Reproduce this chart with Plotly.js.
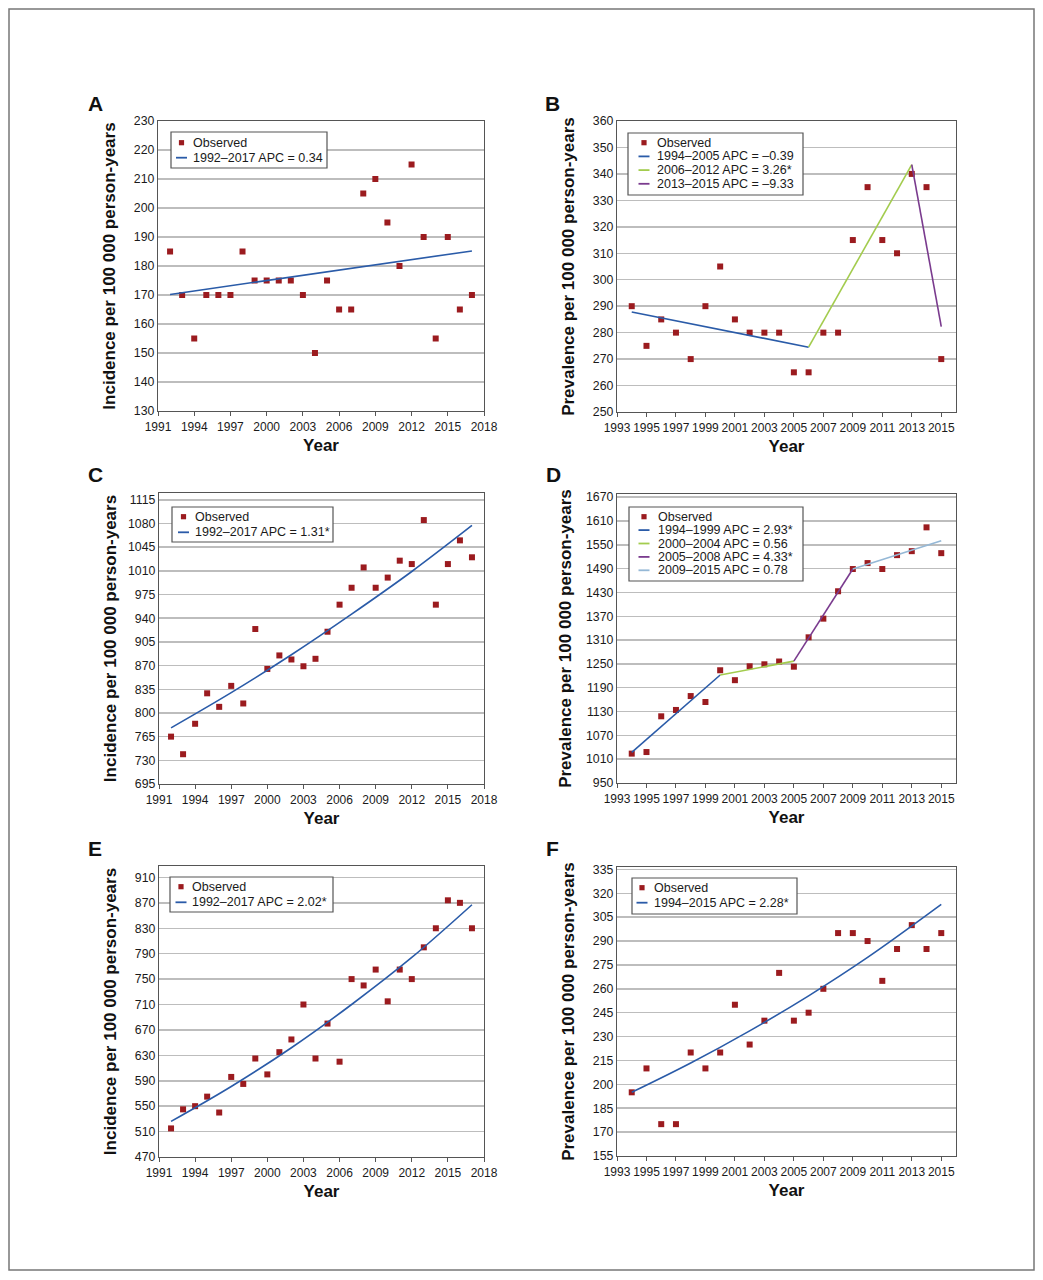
<!DOCTYPE html>
<html><head><meta charset="utf-8">
<script src="https://cdn.plot.ly/plotly-3.0.1.min.js"></script>
<style>html,body{margin:0;padding:0;background:#fff}</style>
</head><body><div id="chart" style="width:1043px;height:1280px"></div>
<script>
// ---------- DATA ----------
const yearsInc = [1992,1993,1994,1995,1996,1997,1998,1999,2000,2001,2002,2003,2004,2005,2006,2007,2008,2009,2010,2011,2012,2013,2014,2015,2016,2017];
const yearsPrev = [1994,1995,1996,1997,1998,1999,2000,2001,2002,2003,2004,2005,2006,2007,2008,2009,2010,2011,2012,2013,2014,2015];

const obsA = [185,170,155,170,170,170,185,175,175,175,175,170,150,175,165,165,205,210,195,180,215,190,155,190,165,170];
const fitA_x = [1992,2017];
const fitA_y = [170.2,185.2];

const obsB = [290,275,285,280,270,290,305,285,280,280,280,265,265,280,280,315,335,315,310,340,335,270];
const fitB1_x = [1994,2006], fitB1_y = [287.8,274.5];
const fitB2_x = [2006,2013], fitB2_y = [274.5,343.5];
const fitB3_x = [2013,2015], fitB3_y = [343.5,282.3];

const obsC = [765,739,784,829,809,840,814,924,865,885,879,869,880,920,960,985,1015,985,1000,1025,1020,1085,960,1020,1055,1030];
const fitC_x = [1992,1997,2002,2007,2012,2017];
const fitC_y = [778,830,886,946,1009,1077];

const obsD = [1024,1028,1118,1134,1169,1154,1234,1209,1244,1249,1256,1243,1317,1364,1433,1489,1504,1489,1524,1534,1594,1529];
const fitD1_x = [1994,2000], fitD1_y = [1027,1222];
const fitD2_x = [2000,2005], fitD2_y = [1222,1257];
const fitD3_x = [2005,2009], fitD3_y = [1257,1489];
const fitD4_x = [2009,2015], fitD4_y = [1489,1560];

const obsE = [515,545,550,565,540,596,585,625,600,635,655,710,625,680,620,750,740,765,715,765,750,800,830,874,870,830];
const fitE_x = [1992,1997,2002,2007,2012,2017];
const fitE_y = [526,581,642,710,784,867];

const obsF = [195,210,175,175,220,210,220,250,225,240,270,240,245,260,295,295,290,265,285,300,285,295];
const fitF_x = [1994,1998,2002,2006,2010,2015];
const fitF_y = [195,213.4,233.6,255.6,279.7,313];

const legendA = ['Observed','1992–2017 APC = 0.34'];
const legendB = ['Observed','1994–2005 APC = –0.39','2006–2012 APC = 3.26*','2013–2015 APC = –9.33'];
const legendC = ['Observed','1992–2017 APC = 1.31*'];
const legendD = ['Observed','1994–1999 APC = 2.93*','2000–2004 APC = 0.56','2005–2008 APC = 4.33*','2009–2015 APC = 0.78'];
const legendE = ['Observed','1992–2017 APC = 2.02*'];
const legendF = ['Observed','1994–2015 APC = 2.28*'];

const yTitleInc = 'Incidence per 100 000 person-years';
const yTitlePrev = 'Prevalence per 100 000 person-years';
const xTitle = 'Year';
const panelLetters = ['A','B','C','D','E','F'];

// ---------- STYLE ----------
const W = 1043, H = 1280;
const FONT = 'Liberation Sans, Arial, Helvetica, sans-serif';
const RED = '#9b1b1f', BLUE = '#2a5ba8', GREEN = '#a3cc4e', PURPLE = '#7a3b8e', LBLUE = '#95b8d6';
const X = px => px / W;
const Y = py => 1 - py / H;

const traces = [];
function obs(x, y, ax) {
  traces.push({x: x, y: y, type: 'scatter', mode: 'markers', xaxis: 'x' + ax, yaxis: 'y' + ax,
    marker: {symbol: 'square', size: 6, color: RED}, showlegend: false, hoverinfo: 'x+y'});
}
function fit(x, y, ax, color, spline) {
  traces.push({x: x, y: y, type: 'scatter', mode: 'lines', xaxis: 'x' + ax, yaxis: 'y' + ax,
    line: {color: color, width: 1.6, shape: spline ? 'spline' : 'linear'}, showlegend: false, hoverinfo: 'skip'});
}
obs(yearsInc, obsA, ''); fit(fitA_x, fitA_y, '', BLUE, false);
obs(yearsPrev, obsB, '2'); fit(fitB1_x, fitB1_y, '2', BLUE, false); fit(fitB2_x, fitB2_y, '2', GREEN, false); fit(fitB3_x, fitB3_y, '2', PURPLE, false);
obs(yearsInc, obsC, '3'); fit(fitC_x, fitC_y, '3', BLUE, true);
obs(yearsPrev, obsD, '4'); fit(fitD1_x, fitD1_y, '4', BLUE, false); fit(fitD2_x, fitD2_y, '4', GREEN, false); fit(fitD3_x, fitD3_y, '4', PURPLE, false); fit(fitD4_x, fitD4_y, '4', LBLUE, false);
obs(yearsInc, obsE, '5'); fit(fitE_x, fitE_y, '5', BLUE, true);
obs(yearsPrev, obsF, '6'); fit(fitF_x, fitF_y, '6', BLUE, true);

// panel geometry (px): [left, top, right, bottom]
const boxes = [[158,121,484,411],[617,121,956,412],[159,493,484,784],[617,494,956,783],[159,866,484,1157],[617,867,956,1156]];
const yRanges = [[130,230],[250,360],[695,1125],[950,1678],[470,928],[155,336.5]];
const yTick0 = [130,250,695,950,470,155];
const yDtick = [10,10,35,60,40,15];
const yStand = [13,13,7,10,13,13];
const isInc = [true,false,true,false,true,false];

const layout = {
  width: W, height: H, margin: {l: 0, r: 0, t: 0, b: 0},
  paper_bgcolor: '#fff', plot_bgcolor: '#fff', showlegend: false,
  font: {family: FONT, size: 12, color: '#222'},
  shapes: [], annotations: []
};
boxes.forEach((b, i) => {
  const s = i === 0 ? '' : String(i + 1);
  const inc = isInc[i];
  layout['xaxis' + s] = {
    domain: [X(b[0]), X(b[2])], anchor: 'y' + s,
    range: inc ? [1991, 2018] : [1993, 2016], tick0: inc ? 1991 : 1993, dtick: inc ? 3 : 2,
    showgrid: false, zeroline: false, showline: true, mirror: true, linecolor: '#555', linewidth: 1.2,
    ticks: 'outside', ticklen: 4, tickcolor: '#555', tickangle: 0, tickfont: {size: 12, color: '#1a1a1a'},
    title: {text: xTitle, font: {size: 17, color: '#111', weight: 'bold'}, standoff: 6}
  };
  layout['yaxis' + s] = {
    domain: [Y(b[3]), Y(b[1])], anchor: 'x' + s,
    range: yRanges[i], tick0: yTick0[i], dtick: yDtick[i],
    showgrid: true, gridcolor: '#bdbdbd', gridwidth: 1.5, zeroline: false,
    showline: true, mirror: true, linecolor: '#555', linewidth: 1.2,
    ticks: '', tickfont: {size: 12.3, color: '#1a1a1a'},
    title: {text: inc ? yTitleInc : yTitlePrev, font: {size: 17, color: '#111', weight: 'bold'}, standoff: yStand[i]}
  };
});

// panel letters
const letterPos = [[95,103.5],[552.5,103.5],[95,474],[553,474],[94.5,848],[552,848]];
panelLetters.forEach((t, i) => {
  layout.annotations.push({text: t, xref: 'paper', yref: 'paper', x: X(letterPos[i][0]), y: Y(letterPos[i][1]),
    xanchor: 'center', yanchor: 'middle', showarrow: false, font: {size: 21, color: '#111', weight: 'bold'}});
});

// legends: [left, top, right, bottom, firstLineY, spacing, symbolX, textX]
const legSpec = [
  [171,132,327,168,142.7,15,181.5,191],
  [628,133,803,195,142.7,13.7,644,655],
  [172,507,333,542,516.7,15.6,183.5,192.7],
  [629,507,803,581,516.7,13.4,644,655.7],
  [170,877,333,912,886.7,15.6,181,190.3],
  [632,878,797,914,887.7,15,642,651.7]
];
const legLabels = [legendA, legendB, legendC, legendD, legendE, legendF];
const legColors = [[RED,BLUE],[RED,BLUE,GREEN,PURPLE],[RED,BLUE],[RED,BLUE,GREEN,PURPLE,LBLUE],[RED,BLUE],[RED,BLUE]];
legSpec.forEach((g, i) => {
  layout.shapes.push({type: 'rect', xref: 'paper', yref: 'paper', x0: X(g[0]), x1: X(g[2]), y0: Y(g[3]), y1: Y(g[1]),
    line: {color: '#555', width: 1.2}, fillcolor: '#fff', layer: 'above'});
  legLabels[i].forEach((lab, k) => {
    const ly = g[4] + k * g[5];
    if (k === 0) {
      layout.shapes.push({type: 'rect', xref: 'paper', yref: 'paper', x0: X(g[6] - 2.6), x1: X(g[6] + 2.6),
        y0: Y(ly + 2.6), y1: Y(ly - 2.6), line: {width: 0}, fillcolor: legColors[i][k], layer: 'above'});
    } else {
      layout.shapes.push({type: 'line', xref: 'paper', yref: 'paper', x0: X(g[6] - 5.5), x1: X(g[6] + 5.5),
        y0: Y(ly), y1: Y(ly), line: {color: legColors[i][k], width: 1.8}, layer: 'above'});
    }
    layout.annotations.push({text: lab, xref: 'paper', yref: 'paper', x: X(g[7]), y: Y(ly),
      xanchor: 'left', yanchor: 'middle', showarrow: false, font: {size: 12.5, color: '#1a1a1a'}});
  });
});

// outer frame
layout.shapes.push({type: 'rect', xref: 'paper', yref: 'paper', x0: X(9), x1: X(1034), y0: Y(1270), y1: Y(9),
  line: {color: '#777', width: 1.5}, fillcolor: 'rgba(0,0,0,0)'});

Plotly.newPlot('chart', traces, layout, {staticPlot: true, displayModeBar: false});
</script></body></html>
